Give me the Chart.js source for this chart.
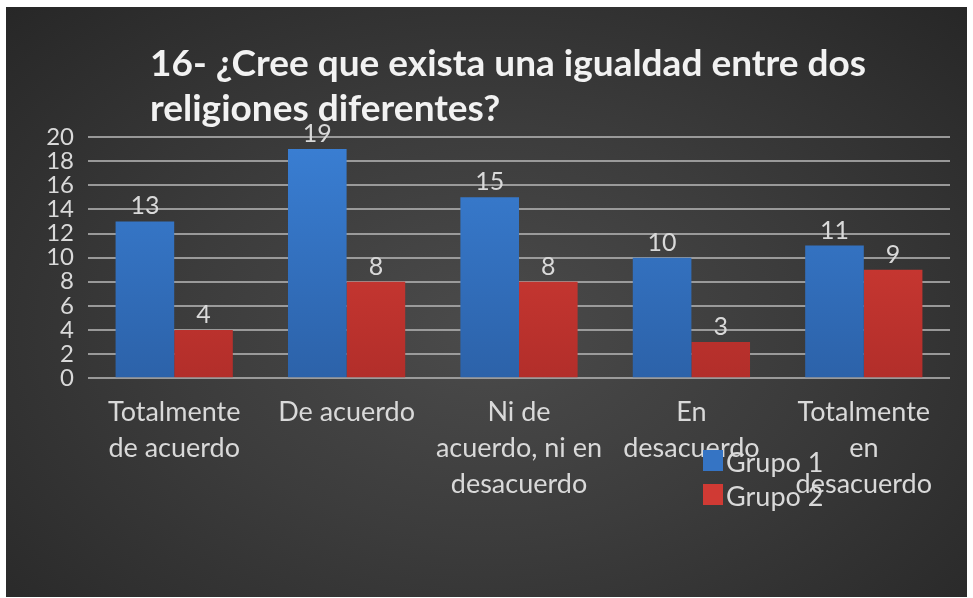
<!DOCTYPE html>
<html>
<head>
<meta charset="utf-8">
<script src="https://cdn.jsdelivr.net/npm/chart.js@4.4.1/dist/chart.umd.min.js"></script>
<style>
  html, body { margin: 0; padding: 0; background: #fff; }
  #wrap {
    position: absolute; left: 6px; top: 7px; width: 961px; height: 590px;
    background: radial-gradient(ellipse at 50% 55%, #4b4b4b 0%, #3c3c3c 45%, #272727 100%);
  }
  #title {
    position: absolute; left: 144px; top: 32px; margin: 0;
    font-family: Lato, "Open Sans", sans-serif; font-weight: bold; font-size: 37px;
    line-height: 45px; color: #f2f2f2;
  }
  canvas { position: absolute; left: 0; top: 0; }
</style>
</head>
<body>
<div id="wrap">
  <canvas id="myChart" width="961" height="590"></canvas>
  <h1 id="title">16- ¿Cree que exista una igualdad entre dos<br>religiones diferentes?</h1>
</div>
<script>
const categories = [
    ["Totalmente", "de acuerdo"],
    "De acuerdo",
    ["Ni de", "acuerdo, ni en", "desacuerdo"],
    ["En", "desacuerdo"],
    ["Totalmente", "en", "desacuerdo"]
]
const grupo1 = [13, 19, 15, 10, 11]
const grupo2 = [4, 8, 8, 3, 9]
const yTicks = [0, 2, 4, 6, 8, 10, 12, 14, 16, 18, 20]

const txtColor = "#d9d9d9"
const fontFam = "Lato, 'Open Sans', sans-serif"

const barGradient = (top, bottom) => (c) => {
    const area = c.chart.chartArea
    if (!area) return top
    const g = c.chart.ctx.createLinearGradient(0, area.top, 0, area.bottom)
    g.addColorStop(0, top)
    g.addColorStop(1, bottom)
    return g
}

// values on top of the bars
const valueLabels = {
    id: "valueLabels",
    afterDatasetsDraw(chart) {
        const ctx = chart.ctx
        ctx.save()
        ctx.font = "25px " + fontFam
        ctx.fillStyle = txtColor
        ctx.textAlign = "center"
        ctx.textBaseline = "alphabetic"
        chart.data.datasets.forEach((ds, i) => {
            chart.getDatasetMeta(i).data.forEach((bar, j) => {
                ctx.fillText(ds.data[j], bar.x, bar.y - 7)
            })
        })
        ctx.restore()
    }
}

// legend drawn over the axis labels, like the original
const overLegend = {
    id: "overLegend",
    afterDraw(chart) {
        const ctx = chart.ctx
        const x = 697, y0 = 443
        ctx.save()
        ctx.font = "27px " + fontFam
        ctx.textBaseline = "middle"
        chart.data.datasets.forEach((ds, i) => {
            const y = y0 + i * 34
            ctx.fillStyle = ds.legendColor
            ctx.fillRect(x, y, 20, 21)
            ctx.fillStyle = txtColor
            ctx.fillText(ds.label, x + 23, y + 13)
        })
        ctx.restore()
    }
}

const myChart = new Chart(document.getElementById("myChart"), {
    type: "bar",
    data: {
        labels: categories,
        datasets: [{
            label: "Grupo 1",
            data: grupo1,
            backgroundColor: barGradient("#3a7fd4", "#2c62a9"),
            legendColor: "#3574c4"
        }, {
            label: "Grupo 2",
            data: grupo2,
            backgroundColor: barGradient("#dc4038", "#b22e2a"),
            legendColor: "#d03a34"
        }]
    },
    options: {
        responsive: false,
        animation: false,
        layout: { padding: { top: 130, right: 17, bottom: 87, left: 0 } },
        datasets: { bar: { barPercentage: 1, categoryPercentage: 0.68 } },
        plugins: { legend: { display: false }, tooltip: { enabled: false } },
        scales: {
            x: {
                grid: { display: false },
                border: { display: false },
                ticks: {
                    color: txtColor, padding: 8, maxRotation: 0, autoSkip: false,
                    font: { family: fontFam, size: 27, lineHeight: 1.33 }
                }
            },
            y: {
                min: 0, max: 20,
                afterFit: (s) => { s.width = 82 },
                afterBuildTicks: (s) => { s.ticks = yTicks.map(v => ({ value: v })) },
                grid: { color: "rgba(170,170,170,0.85)", lineWidth: 2, drawTicks: false },
                border: { display: false },
                ticks: {
                    color: txtColor, padding: 14, autoSkip: false,
                    font: { family: fontFam, size: 24, lineHeight: 1 }
                }
            }
        }
    },
    plugins: [valueLabels, overLegend]
})
</script>
</body>
</html>
